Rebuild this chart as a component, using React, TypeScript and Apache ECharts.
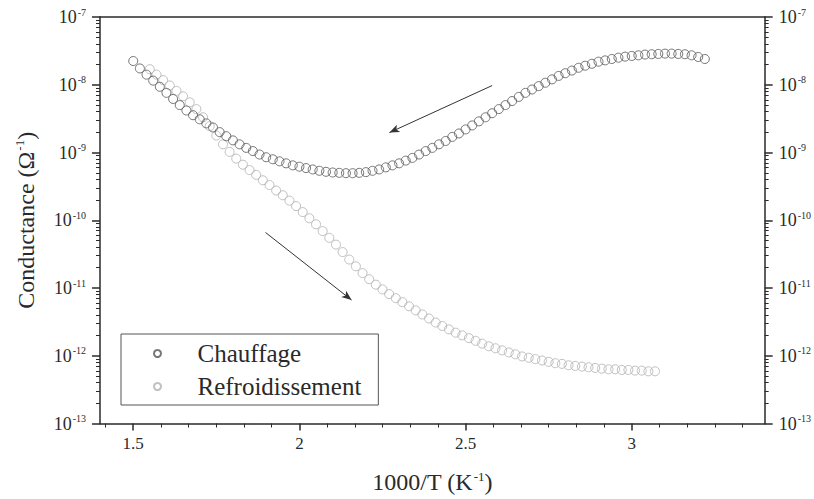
import React, { useEffect, useRef } from "react";
import * as echarts from "echarts";

// ---- data ----
const heatX = [1.50,1.52,1.54,1.56,1.58,1.60,1.62,1.64,1.66,1.68,1.70,1.72,1.74,1.76,1.78,1.80,1.82,1.84,1.86,1.88,1.90,1.92,1.94,1.96,1.98,2.00,2.02,2.04,2.06,2.08,2.10,2.12,2.14,2.16,2.18,2.20,2.22,2.24,2.26,2.28,2.30,2.32,2.34,2.36,2.38,2.40,2.42,2.44,2.46,2.48,2.50,2.52,2.54,2.56,2.58,2.60,2.62,2.64,2.66,2.68,2.70,2.72,2.74,2.76,2.78,2.80,2.82,2.84,2.86,2.88,2.90,2.92,2.94,2.96,2.98,3.00,3.02,3.04,3.06,3.08,3.10,3.12,3.14,3.16,3.18,3.20,3.22];
const heatG = [2.24e-8,1.74e-8,1.41e-8,1.15e-8,9.33e-9,7.59e-9,6.17e-9,5.01e-9,4.17e-9,3.55e-9,3.09e-9,2.69e-9,2.34e-9,2.00e-9,1.74e-9,1.51e-9,1.32e-9,1.17e-9,1.05e-9,9.33e-10,8.51e-10,7.94e-10,7.41e-10,6.92e-10,6.46e-10,6.17e-10,5.89e-10,5.62e-10,5.37e-10,5.19e-10,5.07e-10,5.01e-10,4.95e-10,4.95e-10,5.01e-10,5.13e-10,5.37e-10,5.62e-10,6.03e-10,6.46e-10,6.92e-10,7.59e-10,8.32e-10,9.33e-10,1.05e-9,1.17e-9,1.32e-9,1.48e-9,1.70e-9,1.91e-9,2.19e-9,2.51e-9,2.88e-9,3.31e-9,3.80e-9,4.37e-9,5.01e-9,5.75e-9,6.61e-9,7.59e-9,8.51e-9,9.55e-9,1.07e-8,1.20e-8,1.35e-8,1.48e-8,1.62e-8,1.78e-8,1.91e-8,2.04e-8,2.19e-8,2.29e-8,2.40e-8,2.51e-8,2.60e-8,2.66e-8,2.72e-8,2.79e-8,2.82e-8,2.85e-8,2.88e-8,2.88e-8,2.85e-8,2.82e-8,2.72e-8,2.57e-8,2.40e-8];

const coolX = [1.55,1.57,1.59,1.61,1.63,1.65,1.67,1.69,1.71,1.73,1.75,1.77,1.79,1.81,1.83,1.85,1.87,1.89,1.91,1.93,1.95,1.97,1.99,2.01,2.03,2.05,2.07,2.09,2.11,2.13,2.15,2.17,2.19,2.21,2.23,2.25,2.27,2.29,2.31,2.33,2.35,2.37,2.39,2.41,2.43,2.45,2.47,2.49,2.51,2.53,2.55,2.57,2.59,2.61,2.63,2.65,2.67,2.69,2.71,2.73,2.75,2.77,2.79,2.81,2.83,2.85,2.87,2.89,2.91,2.93,2.95,2.97,2.99,3.01,3.03,3.05,3.07];
const coolG = [1.70e-8,1.41e-8,1.17e-8,9.77e-9,8.13e-9,6.76e-9,5.50e-9,4.37e-9,3.31e-9,2.45e-9,1.78e-9,1.32e-9,1.02e-9,8.13e-10,6.61e-10,5.50e-10,4.68e-10,3.89e-10,3.31e-10,2.75e-10,2.34e-10,1.95e-10,1.62e-10,1.32e-10,1.07e-10,8.71e-11,6.92e-11,5.50e-11,4.37e-11,3.39e-11,2.63e-11,2.09e-11,1.66e-11,1.35e-11,1.12e-11,9.55e-12,8.13e-12,7.08e-12,6.17e-12,5.37e-12,4.68e-12,4.07e-12,3.55e-12,3.09e-12,2.75e-12,2.45e-12,2.19e-12,2.00e-12,1.82e-12,1.66e-12,1.51e-12,1.38e-12,1.29e-12,1.20e-12,1.12e-12,1.05e-12,9.77e-13,9.33e-13,8.91e-13,8.51e-13,8.13e-13,7.76e-13,7.59e-13,7.24e-13,7.08e-13,6.92e-13,6.76e-13,6.61e-13,6.46e-13,6.31e-13,6.31e-13,6.17e-13,6.17e-13,6.03e-13,6.03e-13,5.89e-13,5.89e-13];

// arrows: [x, G] start and end
const arrowHeatStart = [2.58, 9.73e-9];
const arrowHeatEnd = [2.271, 1.97e-9];
const arrowCoolStart = [1.898, 6.6e-11];
const arrowCoolEnd = [2.157, 6.64e-12];

// axes / ticks
const xMin = 1.4;
const xMax = 3.4;
const xMajor = [1.5, 2, 2.5, 3];
const xMinor = [1.4167,1.5833,1.6667,1.75,1.8333,1.9167,2.0833,2.1667,2.25,2.3333,2.4167,2.5833,2.6667,2.75,2.8333,2.9167,3.0833,3.1667,3.25,3.3333];
const yMin = 1e-13;
const yMax = 1e-7;
const yMajor = [1e-13, 1e-12, 1e-11, 1e-10, 1e-9, 1e-8, 1e-7];
const yMinorMult = [2, 3, 4, 5, 6, 7, 8, 9];

const seriesNames = ["Chauffage", "Refroidissement"];
const xTitle = "1000/T (K";
const yTitle = "Conductance (Ω";

const SERIF = "'Liberation Serif', 'DejaVu Serif', serif";
const INK = "#2a2a2a";

export default function App() {
  const ref = useRef<HTMLDivElement>(null);
  useEffect(() => {
    if (!ref.current) return;
    const chart = echarts.init(ref.current, undefined, { renderer: "svg" });
    const yMinor: number[] = [];
    yMajor.slice(0, -1).forEach((d) => yMinorMult.forEach((m) => yMinor.push(d * m)));

    const expLabel = (v: number) => `{b|10}{s|${Math.round(Math.log10(v))}}`;
    const labelRich = {
      b: { fontSize: 18, fontFamily: SERIF, color: INK },
      s: { fontSize: 10, fontFamily: SERIF, color: INK, verticalAlign: "top", padding: [0, 0, 10, 1] },
    };

    const yMajorAxis = (position: "left" | "right") => ({
      type: "log",
      logBase: 10,
      min: yMin,
      max: yMax,
      position,
      axisLine: { show: true, lineStyle: { color: INK, width: 1.5 } },
      axisTick: { show: true, customValues: yMajor, length: 8, lineStyle: { color: INK, width: 1.5 } },
      axisLabel: { show: true, customValues: yMajor, formatter: expLabel, rich: labelRich, margin: 14 },
      splitLine: { show: false },
    });
    const yMinorAxis = (position: "left" | "right") => ({
      type: "log",
      logBase: 10,
      min: yMin,
      max: yMax,
      position,
      axisLine: { show: false },
      axisTick: { show: true, customValues: yMinor, length: 4, lineStyle: { color: INK, width: 1 } },
      axisLabel: { show: false },
      splitLine: { show: false },
    });

    const circleStyle = (c: string) => ({ color: "rgba(255,255,255,0)", borderColor: c, borderWidth: 1 });
    const titleRich = {
      s: { fontSize: 13, fontFamily: SERIF, color: INK, verticalAlign: "top", padding: [0, 0, 12, 1] },
      n: { fontSize: 24, fontFamily: SERIF, color: INK },
    };

    chart.setOption({
      animation: false,
      backgroundColor: "#ffffff",
      grid: { left: 100, right: 48, top: 17, bottom: 67, containLabel: false },
      legend: {
        orient: "vertical",
        left: 121,
        top: 334,
        padding: [7, 17, 6, 32],
        itemWidth: 70,
        itemHeight: 7,
        itemGap: 8,
        borderColor: "#555",
        borderWidth: 1,
        data: seriesNames.map((n) => ({ name: n, icon: "circle" })),
        textStyle: { fontSize: 25, fontFamily: SERIF, color: INK, lineHeight: 24 },
      },
      xAxis: [
        {
          type: "value",
          min: xMin,
          max: xMax,
          position: "bottom",
          axisLine: { show: true, onZero: false, lineStyle: { color: INK, width: 1.5 } },
          axisTick: { show: true, customValues: xMajor, length: 7, lineStyle: { color: INK, width: 1.5 } },
          axisLabel: { show: true, customValues: xMajor, formatter: (v: number) => String(v), fontSize: 17, fontFamily: SERIF, color: INK, margin: 11 },
          splitLine: { show: false },
          name: `${xTitle}{s|-1}{n|)}`,
          nameLocation: "middle",
          nameGap: 46,
          nameTextStyle: { fontSize: 24, fontFamily: SERIF, color: INK, rich: titleRich },
        },
        {
          type: "value",
          min: xMin,
          max: xMax,
          position: "bottom",
          axisLine: { show: false, onZero: false },
          axisTick: { show: true, customValues: xMinor, length: 4, lineStyle: { color: INK, width: 1 } },
          axisLabel: { show: false },
          splitLine: { show: false },
        },
        {
          type: "value",
          min: xMin,
          max: xMax,
          position: "top",
          axisLine: { show: true, onZero: false, lineStyle: { color: INK, width: 1.5 } },
          axisTick: { show: false },
          axisLabel: { show: false },
          splitLine: { show: false },
        },
      ],
      yAxis: [
        {
          ...yMajorAxis("left"),
          name: `${yTitle}{s|-1}{n|)}`,
          nameLocation: "middle",
          nameGap: 62,
          nameTextStyle: { fontSize: 24, fontFamily: SERIF, color: INK, rich: titleRich },
        },
        yMinorAxis("left"),
        yMajorAxis("right"),
        yMinorAxis("right"),
      ],
      series: [
        {
          name: seriesNames[1],
          type: "scatter",
          xAxisIndex: 0,
          yAxisIndex: 0,
          symbol: "circle",
          symbolSize: 9,
          itemStyle: circleStyle("#b0b0b0"),
          data: coolX.map((x, i) => [x, coolG[i]]),
        },
        {
          name: seriesNames[0],
          type: "scatter",
          xAxisIndex: 0,
          yAxisIndex: 0,
          symbol: "circle",
          symbolSize: 9,
          itemStyle: circleStyle("#555555"),
          data: heatX.map((x, i) => [x, heatG[i]]),
          markLine: {
            silent: true,
            symbol: ["none", "arrow"],
            symbolSize: [6, 10],
            label: { show: false },
            lineStyle: { color: "#333", width: 1, type: "solid" },
            data: [
              [{ coord: arrowHeatStart }, { coord: arrowHeatEnd }],
              [{ coord: arrowCoolStart }, { coord: arrowCoolEnd }],
            ],
          },
        },
      ],
    });
    return () => chart.dispose();
  }, []);
  return <div ref={ref} style={{ position: "fixed", left: 0, top: 0, width: 814, height: 499, background: "#fff" }} />;
}
